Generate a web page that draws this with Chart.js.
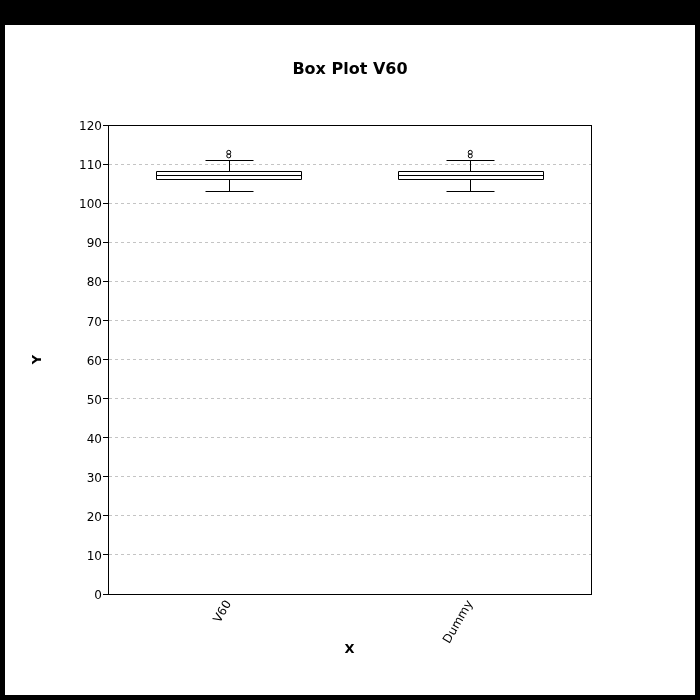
<!DOCTYPE html>
<html>
<head>
<meta charset="utf-8">
<script src="https://cdn.jsdelivr.net/npm/chart.js@4.4.0/dist/chart.umd.min.js"></script>
<style>
  html, body { margin: 0; padding: 0; background: #000; width: 700px; height: 700px; overflow: hidden; }
  #wrap { position: absolute; left: 5px; top: 25px; width: 690px; height: 670px; background: #fff; }
  canvas { display: block; }
</style>
</head>
<body>
<div id="wrap"><canvas id="c" width="690" height="670"></canvas></div>
<script>
const categories = ['V60', 'Dummy'];
const whiskerLow = [103.0, 103.0];
const q1 = [106.3, 106.3];
const medians = [107.2, 107.2];
const q3 = [108.2, 108.2];
const whiskerHigh = [111.0, 111.0];
const outliers = [[112.1, 113.0], [112.1, 113.0]];
const yTicks = [0, 10, 20, 30, 40, 50, 60, 70, 80, 90, 100, 110, 120];

const FONT = "'DejaVu Sans', sans-serif";

const outlierPoints = [];
categories.forEach((c, i) => outliers[i].forEach(v => outlierPoints.push({ x: c, y: v })));

const boxPlugin = {
  id: 'boxExtras',
  afterDatasetsDraw(chart) {
    const ctx = chart.ctx;
    const xs = chart.scales.x, ys = chart.scales.y;
    const meta = chart.getDatasetMeta(0);
    ctx.save();
    ctx.strokeStyle = '#000';
    ctx.lineWidth = 1;
    categories.forEach((c, i) => {
      const bar = meta.data[i];
      const w = bar.width;
      const cxRaw = xs.getPixelForValue(i);
      const cx = Math.round(cxRaw) + 0.5;
      const xl = Math.round(cxRaw - w / 2) + 0.5;
      const xr = Math.round(cxRaw + w / 2) + 0.5;
      const yMed = Math.round(ys.getPixelForValue(medians[i])) + 0.5;
      const yQ1 = Math.round(ys.getPixelForValue(q1[i])) + 0.5;
      const yQ3 = Math.round(ys.getPixelForValue(q3[i])) + 0.5;
      const yLo = Math.round(ys.getPixelForValue(whiskerLow[i])) + 0.5;
      const yHi = Math.round(ys.getPixelForValue(whiskerHigh[i])) + 0.5;
      const capHalf = Math.round(w / 6);
      ctx.beginPath();
      ctx.rect(xl, yQ3, xr - xl, yQ1 - yQ3);
      ctx.moveTo(xl, yMed); ctx.lineTo(xr, yMed);
      ctx.moveTo(cx, yQ3); ctx.lineTo(cx, yHi);
      ctx.moveTo(cx, yQ1); ctx.lineTo(cx, yLo);
      ctx.moveTo(cx - capHalf, yHi); ctx.lineTo(cx + capHalf, yHi);
      ctx.moveTo(cx - capHalf, yLo); ctx.lineTo(cx + capHalf, yLo);
      ctx.stroke();
    });
    ctx.restore();
  },
  afterDraw(chart) {
    const a = chart.chartArea;
    const ctx = chart.ctx;
    ctx.save();
    ctx.strokeStyle = '#000';
    ctx.lineWidth = 1;
    ctx.strokeRect(Math.round(a.left) + 0.5, Math.round(a.top) + 0.5, Math.round(a.right - a.left), Math.round(a.bottom - a.top));
    ctx.restore();
  }
};

new Chart(document.getElementById('c'), {
  type: 'bar',
  data: {
    labels: categories,
    datasets: [
      {
        type: 'bar',
        data: categories.map((c, i) => [q1[i], q3[i]]),
        backgroundColor: '#ffffff',
        borderWidth: 0,
        barPercentage: 0.6,
        categoryPercentage: 1.0,
        yAxisID: 'y'
      },
      {
        type: 'line',
        data: outlierPoints,
        showLine: false,
        pointStyle: 'circle',
        pointRadius: 2,
        pointBorderWidth: 1,
        borderColor: '#000',
        backgroundColor: 'rgba(0,0,0,0)',
        yAxisID: 'y'
      }
    ]
  },
  options: {
    responsive: false,
    devicePixelRatio: 1,
    animation: false,
    layout: { padding: 0 },
    plugins: {
      legend: { display: false },
      tooltip: { enabled: false },
      title: {
        display: true,
        text: 'Box Plot V60',
        color: '#000',
        font: { family: FONT, size: 16, weight: 'bold' },
        padding: { top: 35.4, bottom: 45.4 }
      }
    },
    scales: {
      x: {
        type: 'category',
        offset: true,
        grid: { display: false, drawTicks: false },
        border: { display: true, color: '#000' },
        ticks: {
          color: '#000',
          font: { family: FONT, size: 12 },
          minRotation: 60,
          maxRotation: 60,
          padding: 4
        },
        title: {
          display: true,
          text: 'X',
          color: '#000',
          font: { family: FONT, size: 13, weight: 'bold' },
          padding: { top: 0, bottom: 37.6 }
        },
        afterFit(s) { s.height = 101; }
      },
      y: {
        position: 'left',
        min: 0,
        max: 120,
        afterBuildTicks(s) { s.ticks = yTicks.map(v => ({ value: v })); },
        grid: {
          color: '#c4c4c4',
          tickColor: '#000',
          tickLength: 5,
          tickBorderDash: []
        },
        border: { display: true, color: '#000', dash: [3, 3] },
        ticks: {
          color: '#000',
          font: { family: FONT, size: 12 },
          padding: 1,
          labelOffset: 2
        },
        title: {
          display: true,
          text: 'Y',
          color: '#000',
          font: { family: FONT, size: 13, weight: 'bold' },
          padding: { top: 24.6, bottom: 0 }
        },
        afterFit(s) { s.width = 103; }
      },
      yR: {
        position: 'right',
        display: true,
        grid: { display: false },
        border: { display: false },
        ticks: { display: false },
        afterFit(s) { s.width = 104; }
      }
    }
  },
  plugins: [boxPlugin]
});
</script>
</body>
</html>
